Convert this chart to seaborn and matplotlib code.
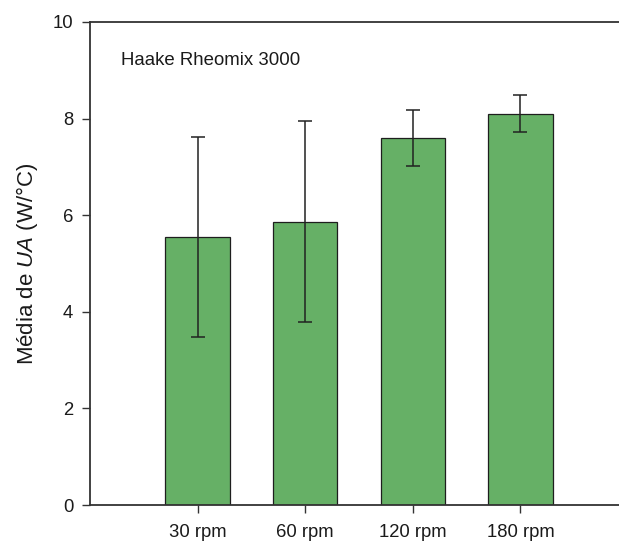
import numpy as np
import pandas as pd
import matplotlib
matplotlib.use('Agg')
import matplotlib.pyplot as plt
import seaborn as sns

# data
rotacao = ['30 rpm', '60 rpm', '120 rpm', '180 rpm']
media_ua = [5.55, 5.86, 7.60, 8.10]
erro_ua = [2.07, 2.08, 0.58, 0.38]

df = pd.DataFrame({'rotacao': rotacao, 'media': media_ua, 'erro': erro_ua})

sns.set_theme(style='white')
plt.rcParams['font.family'] = ['Liberation Sans', 'DejaVu Sans']
plt.rcParams['mathtext.fontset'] = 'custom'
plt.rcParams['mathtext.rm'] = 'Liberation Sans'
plt.rcParams['mathtext.it'] = 'Liberation Sans:italic'

fig = plt.figure(figsize=(6.19, 5.42), dpi=100)
ax = fig.add_axes([90 / 619, 37 / 542, 538 / 619, 483 / 542])

sns.barplot(data=df, x='rotacao', y='media', color='#66b066', saturation=1,
            width=0.6, edgecolor='#1e1e1e', linewidth=0.9, errorbar=None, ax=ax)
ax.errorbar(np.arange(len(rotacao)), df['media'], yerr=df['erro'], fmt='none',
            ecolor='#222222', elinewidth=1.1, capsize=5, capthick=1.1)

ax.set_xlim(-1, 4)
ax.set_ylim(0, 10)
ax.set_yticks([0, 2, 4, 6, 8, 10])
ax.set_xlabel('')
ax.set_ylabel(r'Média de $\mathit{UA}$ (W/°C)', fontsize=16, color='#1a1a1a', labelpad=9)
ax.tick_params(axis='both', which='both', direction='out', length=6, width=1,
               color='#333333', labelsize=13.3, labelcolor='#1a1a1a')
ax.tick_params(axis='y', left=True, pad=6)
ax.tick_params(axis='x', bottom=True, pad=8)
for s in ax.spines.values():
    s.set_color('#333333')
    s.set_linewidth(1.3)

ax.text(0.058, 0.92, 'Haake Rheomix 3000', transform=ax.transAxes,
        fontsize=13.4, color='#1a1a1a', va='center', ha='left')

fig.savefig('out.png', dpi=100)
